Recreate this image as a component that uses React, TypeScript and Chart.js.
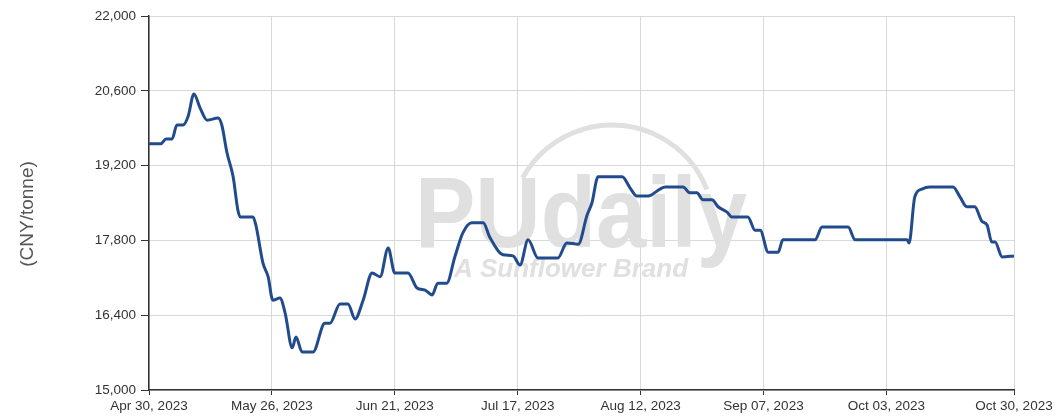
import React, { useEffect, useRef } from 'react';
import { Chart, registerables } from 'chart.js';

Chart.register(...registerables);

// Days since Apr 30, 2023
const dayOffsets = [
  0, 2.5, 3.6, 4.9, 5.9, 7.2, 8.3, 9.5, 10.8, 12.3, 14.6, 15.4, 16.5, 17.8, 18.8, 19.3,
  22.0, 22.6, 24.1, 25.2, 26.2, 27.7, 28.8, 30.3, 31.1, 32.4, 34.7, 37.2, 38.3, 40.4,
  42.1, 43.6, 45.3, 47.2, 48.9, 50.6, 52.0, 54.8, 56.7, 58.4, 59.9, 61.1, 63.0, 64.7,
  66.4, 68.3, 70.7, 72.1, 74.9, 77.0, 78.5, 80.2, 82.3, 86.5, 88.4, 90.8, 92.7, 93.7,
  95.0, 100.1, 101.8, 103.2, 105.6, 108.1, 109.2, 113.0, 114.4, 115.9, 117.2, 119.1,
  120.4, 122.3, 123.3, 126.7, 128.2, 129.3, 131.0, 133.1, 134.1, 140.9, 142.4, 147.9,
  149.4, 160.4, 160.8, 162.0, 163.5, 165.2, 170.1, 171.6, 173.0, 174.7, 176.2, 177.3,
  178.3, 179.0, 180.5, 183,
];

// CNY/tonne
const prices = [
  19610, 19610, 19700, 19700, 19960, 19960, 20130, 20540, 20280, 20050, 20090, 19960,
  19440, 18990, 18370, 18240, 18240, 18090, 17380, 17120, 16680, 16720, 16440, 15790,
  15990, 15710, 15710, 16250, 16250, 16610, 16610, 16330, 16680, 17190, 17120, 17660,
  17190, 17190, 16910, 16870, 16780, 17000, 17000, 17490, 17940, 18130, 18130, 17860,
  17530, 17510, 17340, 17810, 17470, 17470, 17750, 17730, 18280, 18500, 18990, 18990,
  18780, 18630, 18630, 18760, 18800, 18800, 18690, 18690, 18560, 18560, 18430, 18330,
  18240, 18240, 17990, 17990, 17580, 17580, 17810, 17810, 18050, 18050, 17810, 17810,
  17750, 18610, 18760, 18800, 18800, 18610, 18430, 18430, 18160, 18090, 17770, 17770,
  17490, 17510,
];

const tickDays = [0, 26, 52, 78, 104, 130, 156, 183];
const tickLabels = [
  'Apr 30, 2023',
  'May 26, 2023',
  'Jun 21, 2023',
  'Jul 17, 2023',
  'Aug 12, 2023',
  'Sep 07, 2023',
  'Oct 03, 2023',
  'Oct 30, 2023',
];

const yMin = 15000;
const yMax = 22000;
const yStep = 1400;
const yTitle = '(CNY/tonne)';
const watermarkMain = 'PUdaily';
const watermarkSub = 'A Sunflower Brand';

const FONT = "'Liberation Sans', Arial, sans-serif";

export default function App() {
  const ref = useRef<HTMLCanvasElement | null>(null);

  useEffect(() => {
    if (!ref.current) return;

    const watermark = {
      id: 'watermark',
      beforeDatasetsDraw(chart: any) {
        const { ctx, chartArea } = chart;
        const L = chartArea.left;
        const T = chartArea.top;
        ctx.save();
        ctx.fillStyle = '#e0e0e0';
        ctx.strokeStyle = '#e0e0e0';
        // arc
        ctx.lineWidth = 5;
        ctx.beginPath();
        ctx.arc(L + 463, T + 211, 102, Math.PI * 1.16, Math.PI * 1.88);
        ctx.stroke();
        // main word
        ctx.font = `bold 100px ${FONT}`;
        ctx.textAlign = 'left';
        ctx.textBaseline = 'alphabetic';
        ctx.fillText(watermarkMain, L + 266, T + 231, 332);
        // sub
        ctx.font = `italic bold 26px ${FONT}`;
        ctx.fillText(watermarkSub, L + 305, T + 261);
        ctx.restore();
      },
    };

    const yTitlePlugin = {
      id: 'yTitlePlugin',
      afterDraw(chart: any) {
        const { ctx, chartArea } = chart;
        ctx.save();
        ctx.translate(28, (chartArea.top + chartArea.bottom) / 2 + 11);
        ctx.rotate(-Math.PI / 2);
        ctx.font = `19px ${FONT}`;
        ctx.fillStyle = '#555';
        ctx.textAlign = 'center';
        ctx.textBaseline = 'middle';
        ctx.fillText(yTitle, 0, 0);
        ctx.restore();
      },
    };

    const chart = new Chart(ref.current, {
      type: 'line',
      data: {
        datasets: [
          {
            data: dayOffsets.map((d, i) => ({ x: d, y: prices[i] })),
            borderColor: '#224b8d',
            borderWidth: 3,
            pointRadius: 0,
            cubicInterpolationMode: 'monotone',
            fill: false,
          },
        ],
      },
      options: {
        responsive: false,
        animation: false,
        layout: { padding: { left: 0, top: 16, right: 42, bottom: 0 } },
        plugins: {
          legend: { display: false },
          tooltip: { enabled: false },
        },
        scales: {
          x: {
            type: 'linear',
            min: 0,
            max: 183,
            afterBuildTicks: (s: any) => {
              s.ticks = tickDays.map((v) => ({ value: v }));
            },
            afterFit: (s: any) => {
              s.height = 29;
            },
            ticks: {
              autoSkip: false,
              maxRotation: 0,
              minRotation: 0,
              padding: 3,
              color: '#333',
              font: { family: FONT, size: 13.5 },
              callback: (_v: any, i: number) => tickLabels[i],
            },
            grid: { color: '#d9d9d9', tickColor: '#333', tickLength: 5, lineWidth: 1 },
            border: { color: '#333', width: 1.5 },
          },
          y: {
            min: yMin,
            max: yMax,
            afterFit: (s: any) => {
              s.width = 149;
            },
            ticks: {
              stepSize: yStep,
              padding: 5,
              color: '#333',
              font: { family: FONT, size: 13.5 },
              callback: (v: any) => Number(v).toLocaleString('en-US'),
            },
            grid: { color: '#d9d9d9', tickColor: '#333', tickLength: 8, lineWidth: 1 },
            border: { color: '#333', width: 1.5 },
          },
        },
      },
      plugins: [watermark, yTitlePlugin],
    } as any);

    return () => chart.destroy();
  }, []);

  return (
    <div style={{ position: 'fixed', left: 0, top: 0, width: 1056, height: 419, background: '#fff' }}>
      <canvas ref={ref} width={1056} height={419} style={{ width: 1056, height: 419 }} />
    </div>
  );
}
